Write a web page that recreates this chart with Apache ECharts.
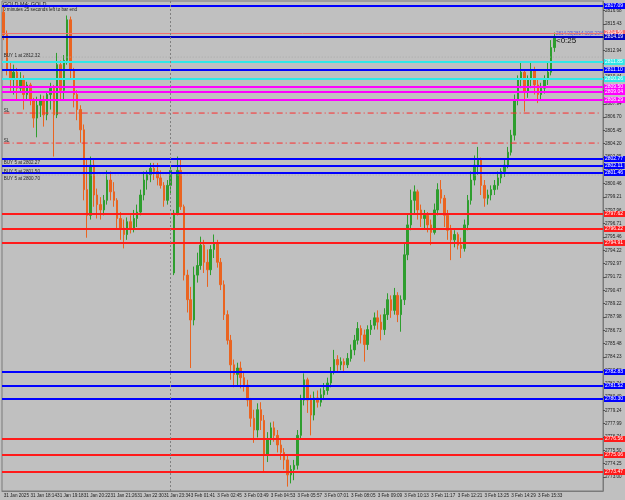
<!DOCTYPE html>
<html>
<head>
<meta charset="utf-8">
<script src="https://cdn.jsdelivr.net/npm/echarts@6/dist/echarts.min.js"></script>
<style>
html,body{margin:0;padding:0;background:#C0C0C0;}
#chart{width:625px;height:500px;}
</style>
</head>
<body>
<div id="chart"></div>
<script>
// Candles (M4 bars, read at ~2-bar resolution): [open, close, low, high]
const candles = [
[2816.5,2814.4,2813.9,2817.1],[2814.4,2811.1,2810.6,2814.8],[2811.1,2810.2,2809.0,2811.8],[2810.2,2810.9,2808.8,2811.6],
[2810.9,2809.4,2808.3,2811.3],[2809.4,2810.3,2809.0,2810.9],[2810.3,2808.8,2807.4,2810.6],[2808.8,2809.7,2808.3,2810.0],
[2809.7,2808.3,2807.8,2809.9],[2808.3,2806.6,2805.7,2808.5],[2806.6,2807.8,2804.8,2808.6],[2807.8,2808.3,2806.7,2808.8],
[2808.3,2806.9,2805.8,2808.7],[2806.9,2808.8,2806.4,2809.0],[2808.8,2809.4,2807.4,2809.9],[2809.4,2806.9,2803.0,2809.7],
[2806.9,2811.6,2806.6,2812.7],[2811.6,2809.2,2808.3,2812.0],[2809.2,2812.0,2808.3,2812.5],[2812.0,2815.8,2811.6,2816.2],
[2815.8,2811.1,2810.2,2816.1],[2811.1,2808.8,2807.6,2811.3],[2808.8,2807.4,2806.4,2809.2],[2807.4,2805.5,2804.3,2807.8],
[2805.5,2799.9,2798.9,2806.0],[2799.9,2797.5,2795.4,2802.7],[2797.5,2802.2,2797.1,2803.0],[2802.2,2799.4,2798.3,2802.7],
[2799.4,2798.5,2797.2,2800.0],[2798.5,2798.0,2797.1,2799.2],[2798.0,2798.9,2797.5,2799.4],[2798.9,2800.8,2798.5,2801.7],
[2800.8,2799.7,2798.9,2801.6],[2799.7,2798.9,2798.3,2800.6],[2798.9,2797.2,2796.3,2799.1],[2797.2,2796.3,2795.2,2797.8],
[2796.3,2795.7,2794.4,2797.1],[2795.7,2796.9,2795.2,2797.3],[2796.9,2796.3,2795.8,2797.5],[2796.3,2797.2,2795.9,2798.0],
[2797.2,2797.8,2796.4,2798.5],[2797.8,2799.4,2797.5,2799.9],[2799.4,2800.8,2798.9,2801.6],[2800.8,2801.3,2799.9,2801.7],
[2801.3,2801.9,2800.6,2802.4],[2801.9,2801.6,2800.8,2802.4],[2801.6,2801.0,2800.3,2802.4],[2801.0,2800.3,2800.0,2801.7],
[2800.3,2798.9,2798.3,2800.6],[2798.9,2800.3,2798.5,2800.8],[2800.3,2801.7,2799.4,2802.2],
[2792.1,2797.7,2791.9,2798.0],[2797.7,2801.7,2797.5,2803.0],[2801.7,2798.3,2798.0,2802.7],[2798.3,2791.9,2791.4,2798.5],
[2791.9,2789.6,2788.4,2792.4],[2789.6,2787.7,2783.2,2790.8],[2787.7,2791.9,2787.2,2792.7],[2791.9,2792.8,2791.2,2794.0],
[2792.8,2794.7,2792.4,2795.5],[2794.7,2793.1,2792.1,2795.2],[2793.1,2792.4,2790.8,2794.3],[2792.4,2794.3,2791.9,2794.7],
[2794.3,2794.9,2793.5,2795.7],[2794.9,2793.1,2792.6,2795.2],[2793.1,2791.0,2790.5,2793.5],[2791.0,2788.2,2787.7,2791.4],
[2788.2,2785.8,2785.4,2788.6],[2785.8,2783.5,2782.1,2786.3],[2783.5,2782.6,2781.4,2784.0],[2782.6,2783.2,2781.6,2783.7],
[2783.2,2782.3,2781.3,2783.8],[2782.3,2781.6,2781.0,2782.8],[2781.6,2780.2,2779.6,2782.1],[2780.2,2778.5,2777.7,2780.4],
[2778.5,2777.4,2776.2,2779.3],[2777.4,2779.3,2776.7,2779.9],[2779.3,2778.3,2777.4,2780.0],[2778.3,2775.1,2773.5,2778.8],
[2775.1,2776.5,2774.4,2777.2],[2776.5,2777.6,2776.0,2778.1],[2777.6,2776.9,2776.3,2778.2],[2776.9,2776.0,2775.3,2777.4],
[2776.0,2775.3,2774.6,2776.5],[2775.3,2774.6,2773.7,2775.7],[2774.6,2773.2,2772.1,2775.1],[2773.2,2773.7,2772.4,2774.1],
[2773.7,2774.1,2772.7,2774.6],[2774.1,2776.9,2773.7,2777.4],[2776.9,2780.2,2776.5,2780.7],[2780.2,2782.1,2779.7,2782.7],
[2782.1,2780.2,2779.0,2782.3],[2780.2,2778.8,2776.9,2780.7],[2778.8,2780.4,2778.3,2781.0],[2780.4,2780.0,2779.5,2781.1],
[2780.0,2780.7,2779.6,2781.3],[2780.7,2781.1,2780.2,2781.8],[2781.1,2781.8,2780.7,2782.3],[2781.8,2782.8,2781.4,2783.3],
[2782.8,2784.0,2782.6,2784.9],[2784.0,2783.5,2782.8,2784.4],[2783.5,2783.8,2783.0,2784.2],[2783.8,2783.5,2782.8,2784.1],
[2783.5,2784.1,2783.2,2784.6],[2784.1,2784.9,2783.8,2785.4],[2784.9,2785.8,2784.4,2786.3],[2785.8,2786.9,2785.4,2787.5],
[2786.9,2786.3,2785.5,2787.2],[2786.3,2785.4,2783.8,2786.8],[2785.4,2786.8,2784.9,2787.2],[2786.8,2787.2,2786.3,2787.7],
[2787.2,2787.9,2786.8,2788.4],[2787.9,2787.5,2786.8,2788.6],[2787.5,2786.8,2785.8,2788.2],[2786.8,2788.2,2786.3,2788.8],
[2788.2,2789.6,2787.7,2790.2],[2789.6,2788.6,2787.9,2790.0],[2788.6,2790.0,2788.2,2790.7],[2790.0,2788.2,2787.5,2790.3],
[2788.2,2789.6,2786.6,2790.0],[2789.6,2793.8,2789.1,2794.9],[2793.8,2796.6,2793.3,2797.7],[2796.6,2798.9,2796.1,2799.9],
[2798.9,2799.7,2797.7,2800.3],[2799.7,2798.0,2797.1,2799.9],[2798.0,2797.2,2796.4,2798.5],[2797.2,2797.5,2796.3,2798.0],
[2797.5,2796.6,2795.9,2797.8],[2796.6,2795.9,2794.7,2797.1],[2795.9,2798.0,2795.7,2798.6],[2798.0,2799.9,2797.5,2800.5],
[2799.9,2799.1,2798.6,2800.8],[2799.1,2797.5,2796.4,2799.4],[2797.5,2796.1,2795.2,2798.0],[2796.1,2795.2,2793.3,2796.6],
[2795.2,2795.7,2794.5,2796.1],[2795.7,2794.7,2794.3,2795.9],[2794.7,2794.4,2793.5,2795.4],[2794.4,2796.6,2794.1,2797.1],
[2796.6,2798.9,2796.1,2799.4],[2798.9,2800.8,2798.5,2801.6],[2800.8,2802.2,2800.3,2803.1],[2802.2,2802.7,2801.3,2803.9],
[2802.7,2800.3,2799.4,2802.9],[2800.3,2799.1,2798.3,2800.8],[2799.1,2799.4,2798.5,2799.9],[2799.4,2799.9,2798.9,2800.3],
[2799.9,2800.3,2799.4,2800.8],[2800.3,2801.0,2799.9,2801.6],[2801.0,2801.6,2800.5,2801.9],[2801.6,2802.2,2801.1,2802.7],
[2802.2,2803.4,2801.9,2803.9],[2803.4,2805.0,2803.1,2805.5],[2805.0,2808.3,2804.5,2808.8],[2808.3,2810.2,2807.8,2810.6],
[2810.2,2810.9,2809.4,2811.8],[2810.9,2809.0,2807.2,2811.1],[2809.0,2810.2,2808.5,2810.6],[2810.2,2811.1,2809.4,2811.8],
[2811.1,2809.7,2808.8,2811.4],[2809.7,2808.8,2808.0,2810.2],[2808.8,2809.4,2808.3,2809.9],[2809.4,2810.2,2808.9,2810.6],
[2810.2,2810.9,2809.7,2811.8],[2810.9,2813.2,2810.6,2813.9],[2813.2,2814.1,2812.8,2814.6]
];

// Time axis labels (one every 8 candles)
const xLabels = ["31 Jan 2025","31 Jan 18:14","31 Jan 19:18","31 Jan 20:22","31 Jan 21:26","31 Jan 22:30","31 Jan 23:34",
"3 Feb 01:41","3 Feb 02:45","3 Feb 03:49","3 Feb 04:53","3 Feb 05:57","3 Feb 07:01","3 Feb 08:05","3 Feb 09:09",
"3 Feb 10:13","3 Feb 11:17","3 Feb 12:21","3 Feb 13:25","3 Feb 14:29","3 Feb 15:33"];

// Price axis tick values
const yTicks = [2773.00,2774.25,2775.50,2776.74,2777.99,2779.24,2780.49,2781.74,2782.98,2784.23,2785.48,2786.73,
2787.98,2789.22,2790.47,2791.72,2792.97,2794.22,2795.46,2796.71,2797.96,2799.21,2800.46,2801.70,2802.95,2804.20,
2805.45,2806.70,2807.94,2809.19,2810.44,2811.69,2812.94,2814.18,2815.43,2816.68];

// Horizontal levels
const levelPrices = [2817.09,2814.56,2814.19,2812.31,2811.85,2811.10,2810.26,2809.50,2809.04,2808.29,2807.07,2804.26,
2802.77,2802.11,2801.46,2801.27,2797.62,2796.22,2794.91,2782.83,2781.52,2780.30,2776.56,2775.06,2773.47];
const levelKinds = ['blue','ask','navy','order','cyan','blue','cyan','mag','mag','mag','sl','sl',
'blue','blue','blue','order','red','red','red','blue','blue','blue','red','red','red'];
const levelNotes = ['','','','BUY 1 at 2812.32','','','','','','','SL','SL',
'BUY 5 at 2802.27','BUY 5 at 2801.50','','BUY 5 at 2800.70','','','','','','','','',''];
const noteShift = [0,0,0,-1,0,0,0,0,0,0,-2,-2,4,6,0,4,0,0,0,0,0,0,0,0,0];

const separatorIndex = 50;
const totalSlots = 180;

const FONT = 'Liberation Sans';
const kindStyle = {
  blue:  {color:'#0000FF', width:2, type:'solid', box:true, text:'#FFFFFF'},
  navy:  {color:'#0000C0', width:2, type:'solid', box:true, text:'#FFFFFF'},
  ask:   {color:'#F07070', width:1, type:'solid', box:true, text:'#FFFFFF'},
  order: {color:'#A8A8A8', width:1, type:[1,2], box:false},
  cyan:  {color:'#30E8E8', width:2, type:'solid', box:true, text:'#FFFFFF'},
  mag:   {color:'#FF00FF', width:2, type:'solid', box:true, text:'#FFFFFF'},
  sl:    {color:'#FF2A2A', width:1, type:[6,3,1,3], box:false},
  red:   {color:'#FF1A1A', width:2, type:'solid', box:true, text:'#FFFFFF'}
};

const categories = Array.from({length: totalSlots}, (_, i) => String(i));

const mlData = [];
const notePoints = [];
const dashSeries = [];
levelPrices.forEach((p, i) => {
  const s = kindStyle[levelKinds[i]];
  if (s.box || s.type === 'solid') {
    mlData.push({
      yAxis: p,
      lineStyle: {color: s.color, width: s.width, type: s.type},
      label: s.box ? {
        show: true, position: 'end', distance: 1,
        formatter: p.toFixed(2), fontSize: 5, fontFamily: FONT,
        color: s.text, backgroundColor: s.color, padding: [0, 2, 0, 1], lineHeight: 6
      } : {show: false}
    });
  } else {
    dashSeries.push({
      type: 'line', silent: true, showSymbol: false, z: 4,
      data: [[categories[0], p], [categories[totalSlots - 1], p]],
      lineStyle: {color: s.color, width: s.width, type: s.type, cap: 'butt'}
    });
  }
  if (levelNotes[i]) {
    notePoints.push({
      coord: [categories[0], p],
      symbol: 'circle', symbolSize: 0.01,
      itemStyle: {color: 'rgba(0,0,0,0)'},
      label: {
        show: true, position: 'right', distance: 0, offset: [0, noteShift[i]],
        formatter: levelNotes[i], fontSize: 4.6, fontFamily: FONT, color: '#282828'
      }
    });
  }
});
mlData.push({
  xAxis: separatorIndex,
  lineStyle: {color: '#808080', width: 1, type: [2, 2]},
  label: {show: false}
});

const chart = echarts.init(document.getElementById('chart'), null, {renderer: 'canvas'});
chart.setOption({
  animation: false,
  backgroundColor: '#C0C0C0',
  grid: {left: 2, right: 22, top: 1, bottom: 9, show: true, borderColor: '#7A7A7A', borderWidth: 1},
  xAxis: {
    type: 'category', data: categories, boundaryGap: true,
    axisLine: {lineStyle: {color: '#7A7A7A'}},
    axisTick: {interval: 7, alignWithLabel: true, length: 2, lineStyle: {color: '#505050'}},
    axisLabel: {
      interval: 7, align: 'left', fontSize: 4.6, fontFamily: FONT, color: '#202020', margin: 2,
      showMinLabel: true, hideOverlap: false,
      formatter: (v, idx) => (idx % 8 === 0 && xLabels[idx / 8]) ? xLabels[idx / 8] : ''
    },
    splitLine: {show: false}
  },
  yAxis: {
    type: 'value', position: 'right', min: 2771.69, max: 2817.56,
    axisLine: {show: true, lineStyle: {color: '#7A7A7A'}},
    axisTick: {show: true, customValues: yTicks, length: 2, lineStyle: {color: '#505050'}},
    axisLabel: {customValues: yTicks, formatter: v => v.toFixed(2), fontSize: 4.6, fontFamily: FONT, color: '#202020', margin: 2},
    splitLine: {show: false}
  },
  series: [{
    type: 'candlestick',
    data: candles,
    barWidth: 2,
    itemStyle: {color: '#2E9E2E', color0: '#EA6420', borderColor: '#2E9E2E', borderColor0: '#EA6420', borderWidth: 1},
    markLine: {silent: true, symbol: 'none', animation: false, data: mlData},
    markPoint: {silent: true, animation: false, data: notePoints}
  }].concat(dashSeries),
  graphic: [
    {type: 'text', left: 3, top: 1, style: {text: 'GOLD,M4: GOLD', fontSize: 5.5, fontFamily: FONT, fill: '#202020'}},
    {type: 'text', left: 3, top: 7, style: {text: '0 minutes 25 seconds left to bar end', fontSize: 4.6, fontFamily: FONT, fill: '#202020'}},
    {type: 'text', left: 556, top: 31, style: {text: '2814.33|2814.10|0.23%', fontSize: 4.5, fontFamily: FONT, fill: '#5050E0'}},
    {type: 'text', left: 556, top: 37, style: {text: '<0:25', fontSize: 8, fontFamily: FONT, fill: '#101010'}}
  ]
});
</script>
</body>
</html>
